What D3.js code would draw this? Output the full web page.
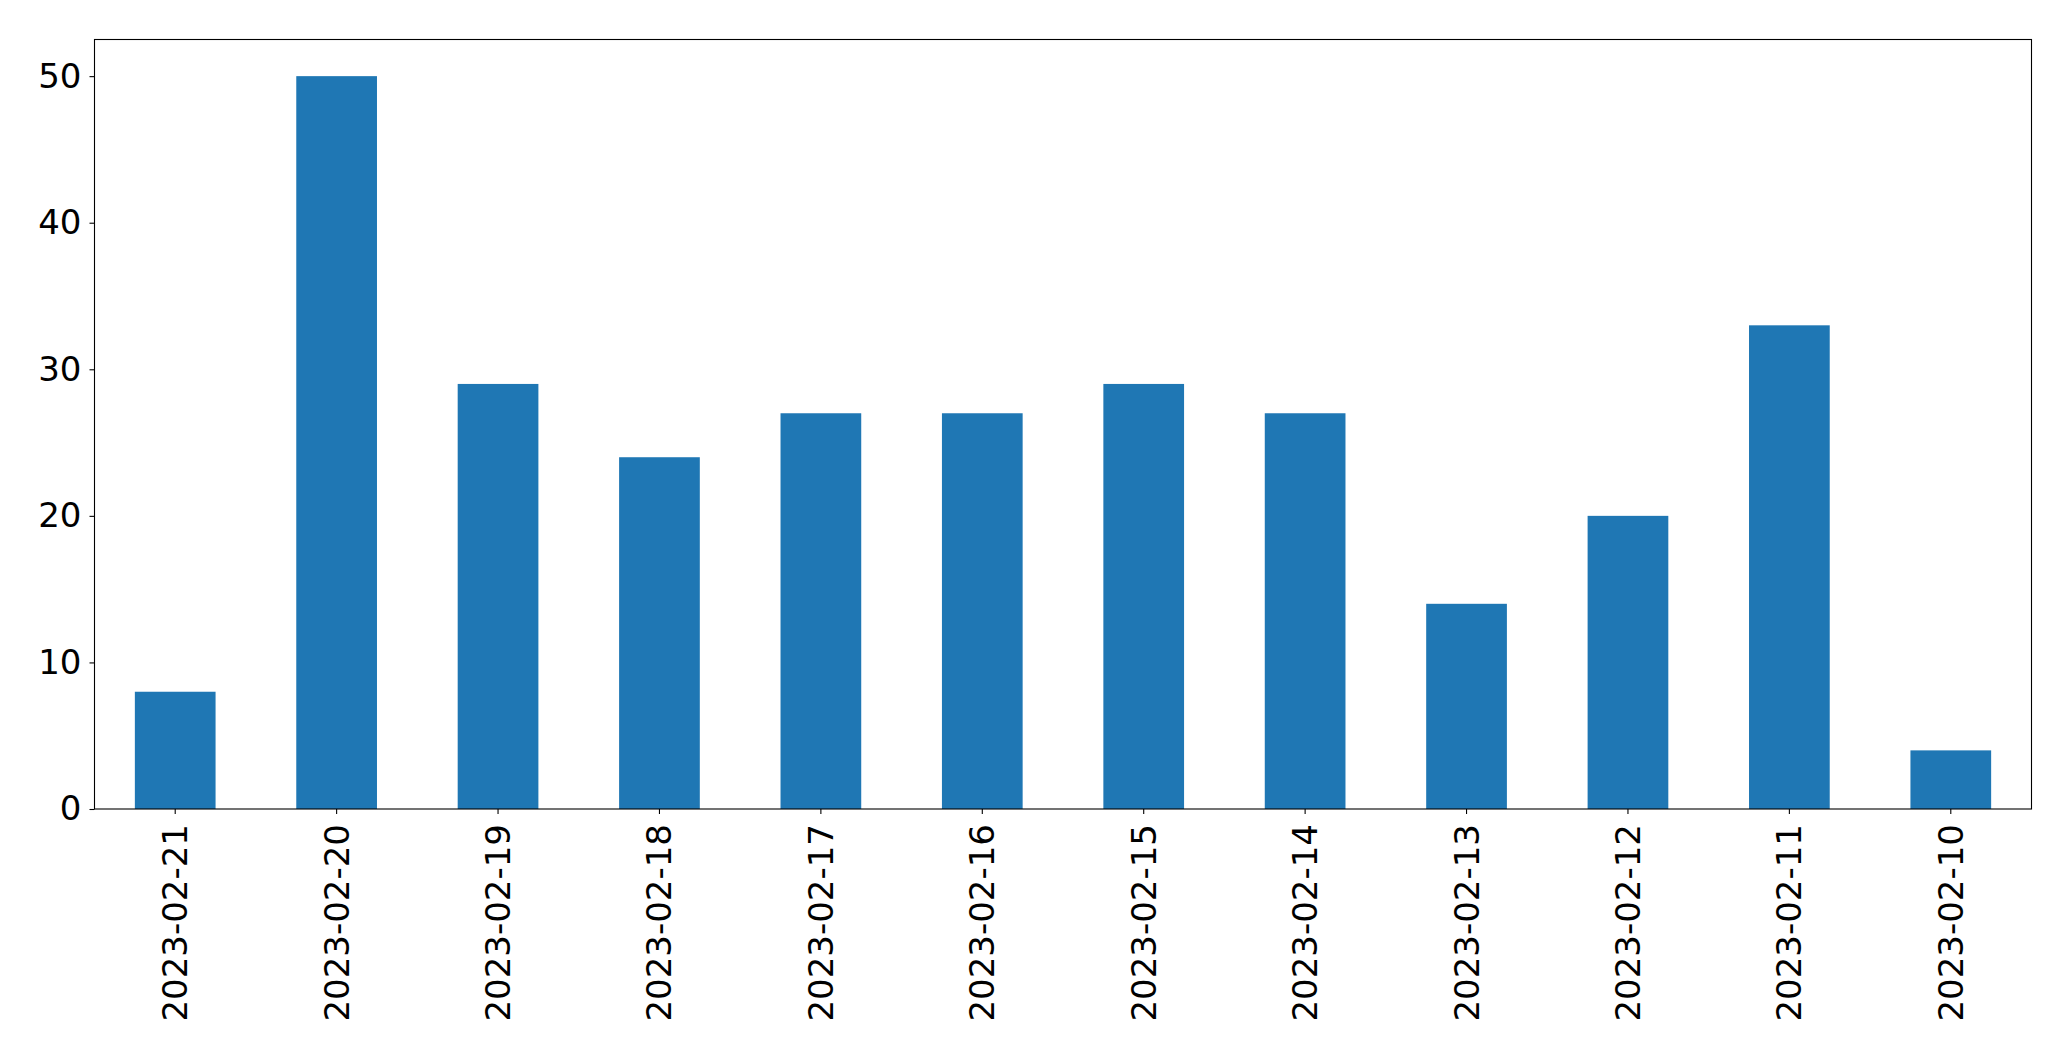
<!DOCTYPE html>
<html>
<head>
<meta charset="utf-8">
<script src="https://cdn.jsdelivr.net/npm/d3@7"></script>
<style>
  html, body { margin: 0; padding: 0; background: #fff; }
  svg { display: block; }
  text { font-family: "DejaVu Sans", sans-serif; fill: #000; }
</style>
</head>
<body>
<svg id="chart" width="2071" height="1061"></svg>
<script>
const categories = ["2023-02-21","2023-02-20","2023-02-19","2023-02-18","2023-02-17","2023-02-16","2023-02-15","2023-02-14","2023-02-13","2023-02-12","2023-02-11","2023-02-10"];
const values = [8, 50, 29, 24, 27, 27, 29, 27, 14, 20, 33, 4];
const yTicks = [0, 10, 20, 30, 40, 50];

const margin = {left: 94.5, top: 39.5, right: 2071 - 2031.5, bottom: 1061 - 809};
const W = 2071, H = 1061;
const svg = d3.select("#chart");
const x0 = margin.left, x1 = W - margin.right, y0 = H - margin.bottom, y1 = margin.top;

const x = d3.scaleBand().domain(categories).range([x0, x1]).paddingInner(0.5).paddingOuter(0.25);
const y = d3.scaleLinear().domain([0, 52.5]).range([y0, y1]);

svg.append("g").selectAll("rect").data(values).join("rect")
  .attr("x", (d, i) => x(categories[i]))
  .attr("y", d => y(d))
  .attr("width", x.bandwidth())
  .attr("height", d => y(0) - y(d))
  .attr("fill", "#1f77b4");

const fs = 34;
// Y axis
const yAxis = svg.append("g").attr("transform", `translate(${x0},0)`)
  .call(d3.axisLeft(y).tickValues(yTicks).tickSize(5).tickPadding(8).tickFormat(d3.format("d")));
yAxis.select(".domain").remove();
yAxis.selectAll("line").attr("stroke", "#000").attr("stroke-width", 1.1);
yAxis.selectAll("text").style("font-size", fs + "px").attr("font-family", "DejaVu Sans");

// X axis
const xAxis = svg.append("g").attr("transform", `translate(0,${y0})`)
  .call(d3.axisBottom(x).tickSize(5).tickPadding(0));
xAxis.select(".domain").remove();
xAxis.selectAll("line").attr("stroke", "#000").attr("stroke-width", 1.1);
xAxis.selectAll("text")
  .style("font-size", fs + "px")
  .attr("font-family", "DejaVu Sans")
  .attr("text-anchor", "end")
  .attr("dominant-baseline", "central")
  .attr("dy", null)
  .attr("y", 0)
  .attr("transform", "translate(0,15) rotate(-90)");

// Frame
svg.append("rect")
  .attr("x", x0).attr("y", y1)
  .attr("width", x1 - x0).attr("height", y0 - y1)
  .attr("fill", "none").attr("stroke", "#000").attr("stroke-width", 1.1);
</script>
</body>
</html>
